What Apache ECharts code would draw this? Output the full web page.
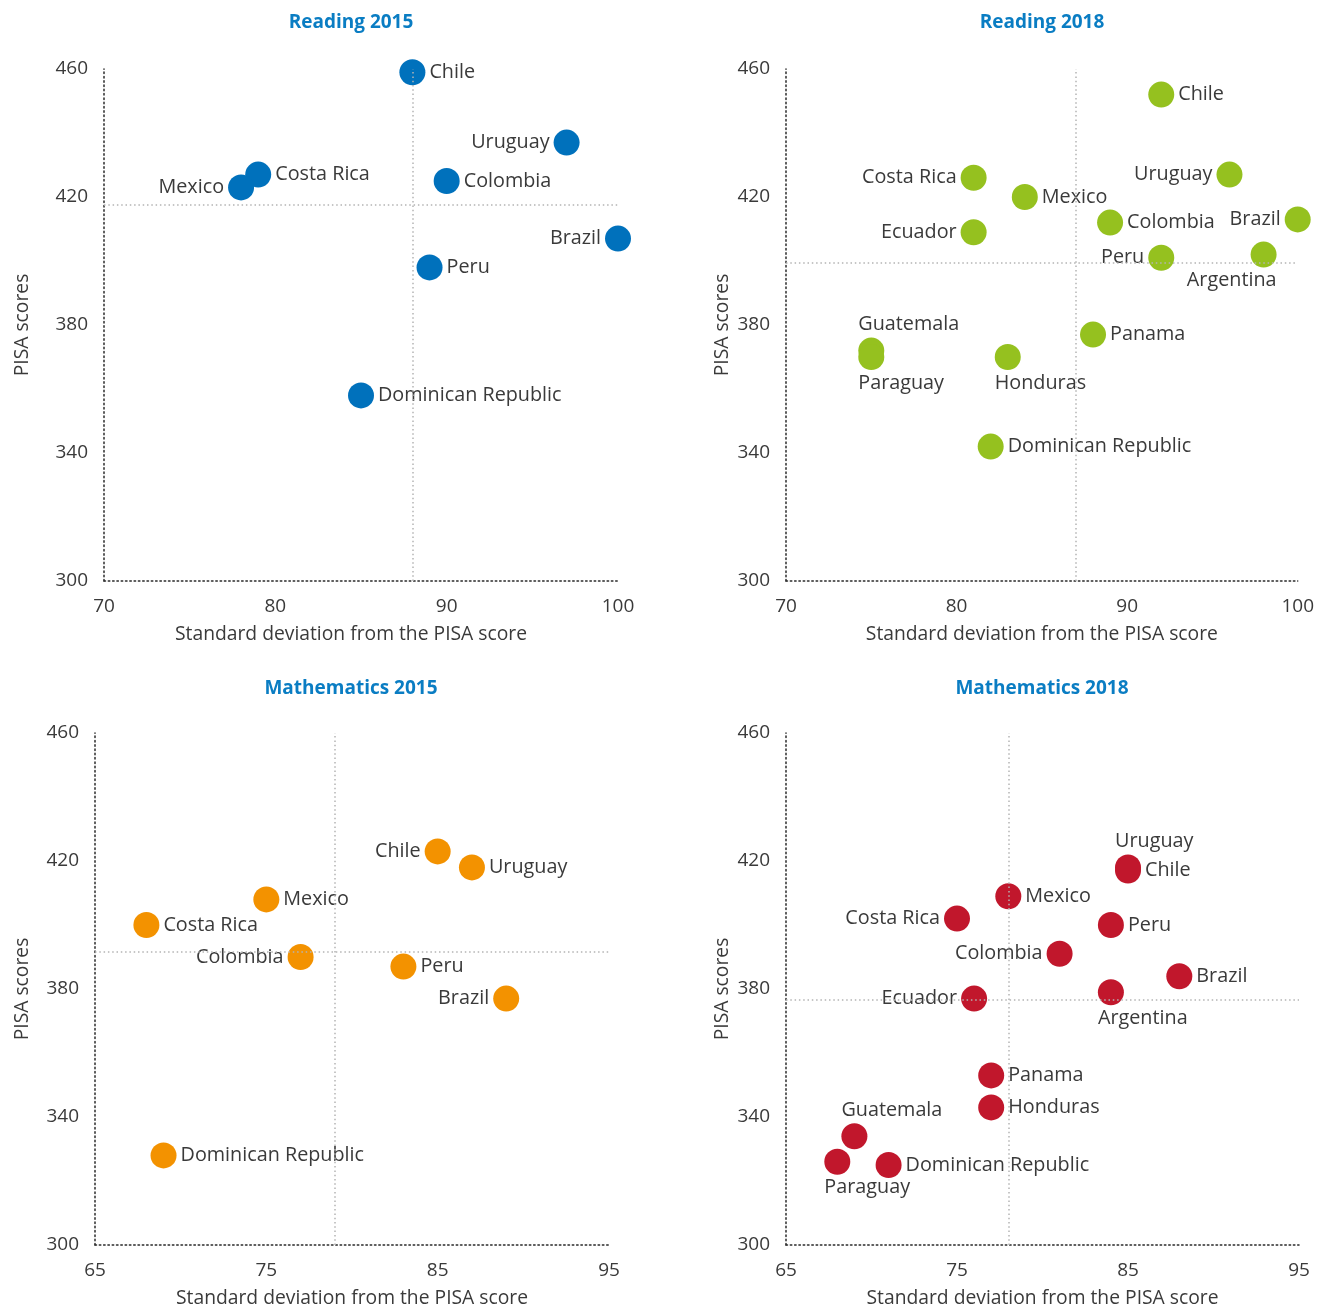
<!DOCTYPE html>
<html><head><meta charset="utf-8">
<script src="https://cdn.jsdelivr.net/npm/echarts@6/dist/echarts.min.js"></script>
<style>html,body{margin:0;padding:0;background:#fff}#c{width:1317px;height:1313px}</style>
</head><body><div id="c"></div>
<script>
// ---- Reading 2015 ----
const countriesR15 = ['Chile','Uruguay','Costa Rica','Mexico','Colombia','Brazil','Peru','Dominican Republic'];
const sdR15 = [88, 97, 79, 78, 90, 100, 89, 85];
const scoreR15 = [459, 437, 427, 423, 425, 407, 398, 358];
const refR15 = [88, 417.5];
// ---- Reading 2018 ----
const countriesR18 = ['Chile','Uruguay','Costa Rica','Mexico','Colombia','Brazil','Ecuador','Peru','Argentina','Panama','Honduras','Guatemala','Paraguay','Dominican Republic'];
const sdR18 = [92, 96, 81, 84, 89, 100, 81, 92, 98, 88, 83, 75, 75, 82];
const scoreR18 = [452, 427, 426, 420, 412, 413, 409, 401, 402, 377, 370, 372, 370, 342];
const refR18 = [87, 399.5];
// ---- Mathematics 2015 ----
const countriesM15 = ['Chile','Uruguay','Mexico','Costa Rica','Colombia','Peru','Brazil','Dominican Republic'];
const sdM15 = [85, 87, 75, 68, 77, 83, 89, 69];
const scoreM15 = [423, 418, 408, 400, 390, 387, 377, 328];
const refM15 = [79, 391.5];
// ---- Mathematics 2018 ----
const countriesM18 = ['Uruguay','Chile','Mexico','Costa Rica','Peru','Colombia','Brazil','Argentina','Ecuador','Panama','Honduras','Guatemala','Paraguay','Dominican Republic'];
const sdM18 = [85, 85, 78, 75, 84, 81, 88, 84, 76, 77, 77, 69, 68, 71];
const scoreM18 = [418, 417, 409, 402, 400, 391, 384, 379, 377, 353, 343, 334, 326, 325];
const refM18 = [78, 376.5];

const yTicks = [300, 340, 380, 420, 460];

// label placement (style, kept apart from data)
const placeR15 = {'Uruguay':'left','Mexico':'left','Brazil':'left'};
const placeR18 = {'Costa Rica':'left','Ecuador':'left','Uruguay':'left','Brazil':'left','Peru':'left','Argentina':'bottomR','Guatemala':'topL','Paraguay':'bottomL','Honduras':'bottomL'};
const placeM15 = {'Chile':'left','Colombia':'left','Brazil':'left'};
const placeM18 = {'Costa Rica':'left','Colombia':'left','Ecuador':'left','Uruguay':'topL','Argentina':'bottomL','Guatemala':'topL','Paraguay':'bottomL'};

const FONT = "'Open Sans', 'Noto Sans', sans-serif";
const TXT = '#3a3a3a';

function labelFor(p) {
  const base = {show: true, formatter: '{b}', color: TXT, fontSize: 19.8, fontFamily: FONT};
  switch (p) {
    case 'left': return Object.assign(base, {position: 'left', distance: 4});
    case 'topL': return Object.assign(base, {position: 'top', align: 'left', offset: [-13, 0], distance: 3});
    case 'bottomL': return Object.assign(base, {position: 'bottom', align: 'left', offset: [-13, 0], distance: 3});
    case 'bottomR': return Object.assign(base, {position: 'bottom', align: 'right', offset: [13, 0], distance: 3});
    default: return Object.assign(base, {position: 'right', distance: 4});
  }
}

function buildData(names, xs, ys, place) {
  return names.map((n, i) => ({name: n, value: [xs[i], ys[i]], label: labelFor(place[n])}));
}

const grids = [
  {left: 104, top: 69, width: 514, height: 512},
  {left: 786, top: 69, width: 513, height: 512},
  {left: 95, top: 733, width: 514, height: 512},
  {left: 786, top: 733, width: 513, height: 512}
];

const panels = [
  {title: 'Reading 2015', cx: 351, ty: 13, names: countriesR15, xs: sdR15, ys: scoreR15, ref: refR15, place: placeR15, color: '#0071bc', xmin: 70, xmax: 100, namePad: [0, 20, 0, 0], yGap: 72},
  {title: 'Reading 2018', cx: 1042, ty: 13, names: countriesR18, xs: sdR18, ys: scoreR18, ref: refR18, place: placeR18, color: '#95c11f', xmin: 70, xmax: 100, namePad: [0, 0, 0, 0], yGap: 54},
  {title: 'Mathematics 2015', cx: 351, ty: 679, names: countriesM15, xs: sdM15, ys: scoreM15, ref: refM15, place: placeM15, color: '#f39200', xmin: 65, xmax: 95, namePad: [0, 0, 0, 0], yGap: 63},
  {title: 'Mathematics 2018', cx: 1042, ty: 679, names: countriesM18, xs: sdM18, ys: scoreM18, ref: refM18, place: placeM18, color: '#c1172c', xmin: 65, xmax: 95, namePad: [0, 0, 0, 0], yGap: 54}
];

const axisLineStyle = {show: true, lineStyle: {type: [1.5, 2.8], color: '#2a2a2a', width: 1.5}};
const tickLabel = {color: TXT, fontSize: 19, fontFamily: FONT};

const option = {
  backgroundColor: '#fff',
  animation: false,
  title: panels.map(p => ({
    text: p.title, left: p.cx, top: p.ty, textAlign: 'center', padding: 0,
    textStyle: {color: '#0a7dc3', fontSize: 19, fontWeight: 'bold', fontFamily: FONT}
  })),
  grid: grids,
  xAxis: panels.map((p, i) => ({
    type: 'value', gridIndex: i, min: p.xmin, max: p.xmax, interval: 10,
    name: 'Standard deviation from the PISA score', nameLocation: 'middle', nameGap: 44,
    nameTextStyle: {color: TXT, fontSize: 19.3, fontFamily: FONT, padding: p.namePad},
    axisLine: axisLineStyle, axisTick: {show: false}, splitLine: {show: false},
    axisLabel: Object.assign({margin: 16}, tickLabel)
  })),
  yAxis: panels.map((p, i) => ({
    type: 'value', gridIndex: i, min: yTicks[0], max: yTicks[yTicks.length - 1], interval: 40,
    name: 'PISA scores', nameLocation: 'middle', nameGap: p.yGap,
    nameTextStyle: {color: TXT, fontSize: 19.3, fontFamily: FONT},
    axisLine: axisLineStyle, axisTick: {show: false}, splitLine: {show: false},
    axisLabel: Object.assign({margin: 16}, tickLabel)
  })),
  series: panels.map((p, i) => ({
    type: 'scatter', xAxisIndex: i, yAxisIndex: i, symbolSize: 26, clip: false,
    itemStyle: {color: p.color, opacity: 1},
    data: buildData(p.names, p.xs, p.ys, p.place),
    markLine: {
      silent: true, symbol: 'none', label: {show: false}, animation: false,
      lineStyle: {type: [1.5, 2.8], color: '#b4b4b4', width: 1.5},
      data: [{xAxis: p.ref[0]}, {yAxis: p.ref[1]}]
    },
    z: 3
  }))
};

echarts.init(document.getElementById('c'), null, {renderer: 'canvas'}).setOption(option);
</script>
</body></html>
